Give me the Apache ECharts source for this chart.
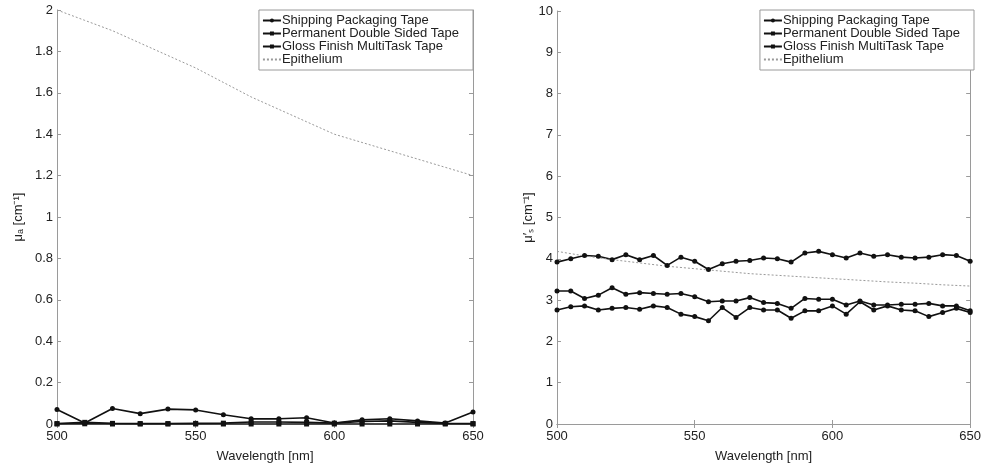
<!DOCTYPE html>
<html>
<head>
<meta charset="utf-8">
<script src="https://cdn.jsdelivr.net/npm/echarts@6/dist/echarts.min.js"></script>
<style>
  html, body { margin: 0; padding: 0; background: #fff; }
  #main { width: 984px; height: 468px; }
</style>
</head>
<body>
<div id="main"></div>
<script>
// wavelengths
var wlA = [500, 510, 520, 530, 540, 550, 560, 570, 580, 590, 600, 610, 620, 630, 640, 650];
var wlS = [500, 505, 510, 515, 520, 525, 530, 535, 540, 545, 550, 555, 560, 565, 570, 575,
           580, 585, 590, 595, 600, 605, 610, 615, 620, 625, 630, 635, 640, 645, 650];

// absorption mu_a [cm-1]
var muaShipping  = [0.070, 0.005, 0.075, 0.050, 0.072, 0.068, 0.045, 0.025, 0.025, 0.030, 0.005, 0.020, 0.025, 0.015, 0.005, 0.058];
var muaPermanent = [0.000, 0.001, 0.000, 0.000, 0.000, 0.000, 0.000, 0.000, 0.000, 0.000, 0.000, 0.000, 0.000, 0.000, 0.000, 0.000];
var muaGloss     = [0.002, 0.008, 0.003, 0.002, 0.002, 0.003, 0.004, 0.010, 0.010, 0.008, 0.004, 0.012, 0.015, 0.008, 0.003, 0.002];
var muaEpi       = [2.00, 1.95, 1.90, 1.84, 1.78, 1.72, 1.65, 1.58, 1.52, 1.46, 1.40, 1.36, 1.32, 1.28, 1.24, 1.20];

// reduced scattering mu_s' [cm-1]
var musShipping  = [3.92, 4.00, 4.08, 4.06, 3.98, 4.10, 3.98, 4.08, 3.84, 4.04, 3.94, 3.74, 3.88, 3.94, 3.96, 4.02,
                    4.00, 3.92, 4.14, 4.18, 4.10, 4.02, 4.14, 4.06, 4.10, 4.04, 4.02, 4.04, 4.10, 4.08, 3.94];
var musPermanent = [3.22, 3.22, 3.04, 3.12, 3.30, 3.14, 3.18, 3.16, 3.14, 3.16, 3.08, 2.96, 2.98, 2.98, 3.06, 2.94,
                    2.92, 2.80, 3.04, 3.02, 3.02, 2.88, 2.98, 2.88, 2.88, 2.90, 2.90, 2.92, 2.86, 2.86, 2.74];
var musGloss     = [2.76, 2.84, 2.86, 2.76, 2.80, 2.82, 2.78, 2.86, 2.82, 2.66, 2.60, 2.50, 2.82, 2.58, 2.82, 2.76,
                    2.76, 2.56, 2.74, 2.74, 2.86, 2.66, 2.96, 2.76, 2.86, 2.76, 2.74, 2.60, 2.70, 2.80, 2.70];
var musEpi       = [4.18, 4.07, 3.98, 3.90, 3.82, 3.76, 3.70, 3.64, 3.60, 3.56, 3.52, 3.48, 3.44, 3.41, 3.37, 3.34];

var names = ['Shipping Packaging Tape', 'Permanent Double Sided Tape', 'Gloss Finish MultiTask Tape', 'Epithelium'];

function pairs(xs, ys) {
  return xs.map(function (x, i) { return [x, ys[i]]; });
}

var font = 'Liberation Sans, Arial, Helvetica, sans-serif';
var frame = '#9a9a9a';

function tapeSeries(name, xs, ys, idx, symbol) {
  return {
    name: name, type: 'line', xAxisIndex: idx * 2, yAxisIndex: idx * 2,
    data: pairs(xs, ys), symbol: symbol, symbolSize: 5,
    lineStyle: { color: '#111', width: 1.6 },
    itemStyle: { color: '#111' },
    animation: false
  };
}
function epiSeries(xs, ys, idx) {
  return {
    name: names[3], type: 'line', xAxisIndex: idx * 2, yAxisIndex: idx * 2,
    data: pairs(xs, ys), symbol: 'none',
    lineStyle: { color: '#999', width: 1, type: [2, 2] },
    itemStyle: { color: '#999' },
    animation: false
  };
}

function xAxes(gi) {
  return [{
    type: 'value', gridIndex: gi, min: 500, max: 650, interval: 50,
    name: 'Wavelength [nm]', nameLocation: 'middle', nameGap: 26,
    nameTextStyle: { fontFamily: font, fontSize: 13, color: '#222' },
    axisLine: { lineStyle: { color: frame } },
    axisTick: { inside: true, length: 4, lineStyle: { color: frame } },
    axisLabel: { fontFamily: font, fontSize: 13, color: '#222', margin: 6 },
    splitLine: { show: false }
  }, {
    type: 'value', gridIndex: gi, position: 'top', min: 500, max: 650, interval: 50,
    axisLine: { lineStyle: { color: frame } },
    axisTick: { inside: true, length: 4, lineStyle: { color: frame } },
    axisLabel: { show: false }, splitLine: { show: false }
  }];
}
function yAxes(gi, max, step, name, digits) {
  return [{
    type: 'value', gridIndex: gi, min: 0, max: max, interval: step,
    name: name, nameLocation: 'middle', nameGap: gi === 0 ? 32 : 22, nameRotate: 90,
    nameTextStyle: { fontFamily: font, fontSize: 13, color: '#222' },
    axisLine: { lineStyle: { color: frame } },
    axisTick: { inside: true, length: 4, lineStyle: { color: frame } },
    axisLabel: { fontFamily: font, fontSize: 13, color: '#222', margin: 4,
      formatter: function (v) { return +v.toFixed(digits) + ''; } },
    splitLine: { show: false }
  }, {
    type: 'value', gridIndex: gi, position: 'right', min: 0, max: max, interval: step,
    axisLine: { lineStyle: { color: frame } },
    axisTick: { inside: true, length: 4, lineStyle: { color: frame } },
    axisLabel: { show: false }, splitLine: { show: false }
  }];
}

function legend(right) {
  return {
    data: [names[0], names[1], names[2], { name: names[3], itemStyle: { opacity: 0 } }],
    orient: 'vertical', right: right, top: 10,
    itemGap: 0, itemWidth: 18, itemHeight: 5,
    padding: [4, 14, 4, 3],
    backgroundColor: '#fff', borderColor: frame, borderWidth: 1,
    textStyle: { fontFamily: font, fontSize: 13, color: '#222', lineHeight: 13, padding: [0, 0, 0, -4] },
    selectedMode: false
  };
}

var chart = echarts.init(document.getElementById('main'), null, { renderer: 'canvas' });
chart.setOption({
  backgroundColor: '#fff',
  animation: false,
  grid: [
    { left: 57, top: 10, width: 416, height: 416 },
    { left: 557, top: 11, width: 417, height: 417 }
  ],
  legend: [legend(984 - 473), legend(10)],
  xAxis: xAxes(0).concat(xAxes(1)),
  yAxis: yAxes(0, 2, 0.2, 'μₐ [cm⁻¹]', 1).concat(yAxes(1, 10, 1, 'μ′ₛ [cm⁻¹]', 0)),
  series: [
    tapeSeries(names[0], wlA, muaShipping, 0, 'circle'),
    tapeSeries(names[1], wlA, muaPermanent, 0, 'rect'),
    tapeSeries(names[2], wlA, muaGloss, 0, 'rect'),
    epiSeries(wlA, muaEpi, 0),
    tapeSeries(names[0], wlS, musShipping, 1, 'circle'),
    tapeSeries(names[1], wlS, musPermanent, 1, 'circle'),
    tapeSeries(names[2], wlS, musGloss, 1, 'circle'),
    epiSeries(wlA, musEpi, 1)
  ]
});
</script>
</body>
</html>
